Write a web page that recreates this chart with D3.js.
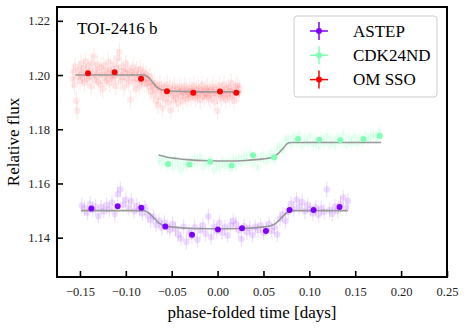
<!DOCTYPE html>
<html>
  <head>
    <meta charset="utf-8">
    <style>
      body { margin: 0; background: #fff; }
    </style>
  </head>
  <body>
    <script src="https://d3js.org/d3.v7.min.js"></script>
    <script>
      // ---- data ----
      var xTicks = [-0.15, -0.10, -0.05, 0.00, 0.05, 0.10, 0.15, 0.20, 0.25];
      var yTicks = [1.14, 1.16, 1.18, 1.20, 1.22];
      var names = ["ASTEP", "CDK24ND", "OM SSO"];

      // OM SSO raw points
      var omTime = [-0.158,-0.157,-0.156,-0.155,-0.154,-0.153,-0.152,-0.151,-0.150,-0.149,-0.148,-0.147,-0.146,-0.145,-0.144,-0.143,-0.142,-0.141,-0.140,-0.139,-0.138,-0.137,-0.136,-0.135,-0.134,-0.133,-0.132,-0.131,-0.130,-0.129,-0.128,-0.127,-0.126,-0.125,-0.124,-0.123,-0.122,-0.121,-0.120,-0.119,-0.118,-0.117,-0.116,-0.115,-0.114,-0.113,-0.112,-0.111,-0.110,-0.109,-0.108,-0.107,-0.106,-0.105,-0.104,-0.103,-0.102,-0.101,-0.100,-0.099,-0.098,-0.097,-0.096,-0.095,-0.094,-0.093,-0.092,-0.091,-0.090,-0.089,-0.088,-0.087,-0.086,-0.085,-0.084,-0.083,-0.082,-0.081,-0.080,-0.079,-0.078,-0.077,-0.076,-0.075,-0.074,-0.073,-0.072,-0.071,-0.070,-0.069,-0.068,-0.067,-0.066,-0.065,-0.064,-0.063,-0.062,-0.061,-0.060,-0.059,-0.058,-0.057,-0.056,-0.055,-0.054,-0.053,-0.052,-0.051,-0.050,-0.049,-0.048,-0.047,-0.046,-0.045,-0.044,-0.043,-0.042,-0.041,-0.040,-0.039,-0.038,-0.037,-0.036,-0.035,-0.034,-0.033,-0.032,-0.031,-0.030,-0.029,-0.028,-0.027,-0.026,-0.025,-0.024,-0.023,-0.022,-0.021,-0.020,-0.019,-0.018,-0.017,-0.016,-0.015,-0.014,-0.013,-0.012,-0.011,-0.010,-0.009,-0.008,-0.007,-0.006,-0.005,-0.004,-0.003,-0.002,-0.001,0.000,0.001,0.002,0.003,0.004,0.005,0.006,0.007,0.008,0.009,0.010,0.011,0.012,0.013,0.014,0.015,0.016,0.017,0.018,0.019,0.020,0.021,0.022,0.023,0.024];
      var omFlux = [1.1985,1.2012,1.1962,1.2030,1.1905,1.1868,1.1995,1.2018,1.1978,1.2041,1.2003,1.1990,1.2025,1.1972,1.2050,1.2008,1.1985,1.2032,1.1995,1.2015,1.1958,1.2045,1.2002,1.2068,1.1982,1.2020,1.1996,1.2038,1.1975,1.2010,1.1965,1.2028,1.2000,1.1948,1.2035,1.1990,1.2016,1.1980,1.2005,1.2048,1.1970,1.2022,1.1995,1.2012,1.1985,1.2040,1.1998,1.1960,1.2025,1.2062,1.2003,1.2085,1.1978,1.2030,1.1992,1.2015,1.1955,1.2008,1.2042,1.1987,1.2020,1.1970,1.2002,1.1910,1.2012,1.1990,1.2028,1.1975,1.2005,1.1948,1.2018,1.1985,1.2000,1.1962,1.2022,1.1978,1.1995,1.2010,1.1968,1.1990,1.2003,1.1972,1.1985,1.1958,1.1995,1.1940,1.1975,1.1962,1.1925,1.1970,1.1948,1.1905,1.1958,1.1890,1.1942,1.1965,1.1918,1.1950,1.1878,1.1935,1.1955,1.1912,1.1940,1.1965,1.1898,1.1932,1.1952,1.1870,1.1925,1.1945,1.1908,1.1960,1.1930,1.1915,1.1948,1.1895,1.1938,1.1955,1.1922,1.1942,1.1905,1.1935,1.1958,1.1925,1.1945,1.1912,1.1940,1.1930,1.1952,1.1918,1.1942,1.1928,1.1960,1.1935,1.1915,1.1945,1.1925,1.1950,1.1932,1.1908,1.1942,1.1962,1.1925,1.1940,1.1918,1.1948,1.1930,1.1955,1.1922,1.1940,1.1910,1.1945,1.1928,1.1958,1.1935,1.1902,1.1948,1.1925,1.1868,1.1940,1.1960,1.1930,1.1915,1.1945,1.1925,1.1965,1.1932,1.1910,1.1948,1.1928,1.1955,1.1918,1.1940,1.1970,1.1925,1.1945,1.1905,1.1938,1.1958,1.1928,1.1962,1.1935,1.1950];
      var omErr = 0.0034;

      // ASTEP raw points
      var astepTime = [-0.148,-0.145,-0.142,-0.139,-0.136,-0.133,-0.130,-0.127,-0.124,-0.121,-0.118,-0.115,-0.112,-0.109,-0.106,-0.103,-0.100,-0.097,-0.094,-0.091,-0.088,-0.085,-0.082,-0.079,-0.076,-0.073,-0.070,-0.067,-0.064,-0.061,-0.058,-0.055,-0.052,-0.049,-0.046,-0.043,-0.040,-0.037,-0.034,-0.031,-0.028,-0.025,-0.022,-0.019,-0.016,-0.013,-0.010,-0.007,-0.004,-0.001,0.002,0.005,0.008,0.011,0.014,0.017,0.020,0.023,0.026,0.029,0.032,0.035,0.038,0.041,0.044,0.047,0.050,0.053,0.056,0.059,0.062,0.065,0.068,0.071,0.074,0.077,0.080,0.083,0.086,0.089,0.092,0.095,0.098,0.101,0.104,0.107,0.110,0.113,0.116,0.119,0.122,0.125,0.128,0.131,0.134,0.137,0.140,0.142];
      var astepFlux = [1.1518,1.1508,1.1492,1.1525,1.1503,1.1515,1.1480,1.1512,1.1498,1.1520,1.1505,1.1530,1.1487,1.1560,1.1578,1.1522,1.1540,1.1510,1.1535,1.1498,1.1518,1.1505,1.1490,1.1512,1.1482,1.1465,1.1478,1.1448,1.1462,1.1438,1.1455,1.1440,1.1428,1.1450,1.1432,1.1412,1.1398,1.1440,1.1385,1.1420,1.1405,1.1438,1.1392,1.1428,1.1445,1.1415,1.1478,1.1402,1.1440,1.1425,1.1455,1.1418,1.1438,1.1408,1.1445,1.1462,1.1450,1.1428,1.1395,1.1442,1.1420,1.1435,1.1410,1.1440,1.1428,1.1445,1.1418,1.1432,1.1450,1.1425,1.1440,1.1412,1.1470,1.1485,1.1462,1.1495,1.1525,1.1505,1.1540,1.1515,1.1532,1.1498,1.1520,1.1505,1.1490,1.1512,1.1485,1.1508,1.1495,1.1578,1.1502,1.1488,1.1515,1.1500,1.1525,1.1548,1.1510,1.1535];
      var astepErr = 0.0028;

      // CDK24ND raw points
      var cdkTime = [-0.064,-0.061,-0.058,-0.055,-0.052,-0.049,-0.046,-0.043,-0.040,-0.037,-0.034,-0.031,-0.028,-0.025,-0.022,-0.019,-0.016,-0.013,-0.010,-0.007,-0.004,-0.001,0.002,0.005,0.008,0.011,0.014,0.017,0.020,0.023,0.026,0.029,0.032,0.035,0.038,0.041,0.044,0.047,0.050,0.053,0.056,0.059,0.062,0.065,0.068,0.071,0.074,0.077,0.080,0.083,0.086,0.089,0.092,0.095,0.098,0.101,0.104,0.107,0.110,0.113,0.116,0.119,0.122,0.125,0.128,0.131,0.134,0.137,0.140,0.143,0.146,0.149,0.152,0.155,0.158,0.161,0.164,0.167,0.170,0.173,0.176,0.178];
      var cdkFlux = [1.1688,1.1675,1.1695,1.1668,1.1682,1.1660,1.1690,1.1672,1.1650,1.1678,1.1665,1.1685,1.1670,1.1692,1.1675,1.1698,1.1662,1.1680,1.1668,1.1688,1.1650,1.1675,1.1658,1.1682,1.1665,1.1678,1.1655,1.1688,1.1670,1.1695,1.1678,1.1702,1.1685,1.1710,1.1672,1.1695,1.1660,1.1690,1.1705,1.1682,1.1698,1.1715,1.1688,1.1725,1.1740,1.1722,1.1758,1.1768,1.1745,1.1772,1.1755,1.1778,1.1740,1.1765,1.1750,1.1775,1.1745,1.1760,1.1738,1.1768,1.1752,1.1775,1.1745,1.1762,1.1740,1.1770,1.1755,1.1778,1.1742,1.1765,1.1750,1.1772,1.1748,1.1768,1.1755,1.1778,1.1760,1.1772,1.1782,1.1765,1.1790,1.1772];
      var cdkErr = 0.0024;

      // binned points
      var astepBinT = [-0.1376,-0.1089,-0.0831,-0.0570,-0.0279,0.0004,0.0266,0.0527,0.0784,0.1046,0.1329];
      var astepBinF = [1.1508,1.1516,1.1510,1.1441,1.1411,1.1430,1.1435,1.1425,1.1502,1.1502,1.1513];
      var cdkBinT = [-0.0540,-0.0308,-0.0080,0.0153,0.0386,0.0618,0.0876,0.1108,0.1337,0.1590,0.1765];
      var cdkBinF = [1.1672,1.1670,1.1680,1.1666,1.1704,1.1697,1.1764,1.1761,1.1759,1.1764,1.1776];
      var omBinT = [-0.1412,-0.1122,-0.0834,-0.0551,-0.0265,0.0026,0.0204];
      var omBinF = [1.2007,1.2010,1.1986,1.1940,1.1935,1.1939,1.1935];

      // transit model curves
      var astepModT = [-0.149,-0.080,-0.076,-0.070,-0.064,-0.058,-0.045,-0.025,0.000,0.025,0.045,0.058,0.064,0.070,0.076,0.080,0.142];
      var astepModF = [1.1500,1.1500,1.1494,1.1475,1.1455,1.1444,1.1438,1.1434,1.1433,1.1434,1.1438,1.1444,1.1455,1.1475,1.1494,1.1500,1.1500];
      var cdkModT = [-0.0643,-0.055,-0.045,-0.030,-0.010,0.010,0.030,0.045,0.055,0.060,0.066,0.072,0.077,0.080,0.178];
      var cdkModF = [1.1705,1.1697,1.1692,1.1687,1.1684,1.1683,1.1685,1.1689,1.1693,1.1697,1.1710,1.1732,1.1749,1.1751,1.1751];
      var omModT = [-0.155,-0.080,-0.076,-0.072,-0.068,-0.064,-0.059,-0.050,-0.030,0.000,0.025];
      var omModF = [1.2000,1.2000,1.1993,1.1978,1.1962,1.1950,1.1944,1.1941,1.1939,1.1938,1.1938];

      var colors = ["#8000ff", "#80ffb4", "#ff0000"];

      var FONT = "'Liberation Serif', 'Times New Roman', serif";
      var W = 466, H = 328;
      var L = 57, R = 447, T = 7, B = 277;

      var svg = d3.select("body").append("svg")
        .attr("width", W).attr("height", H)
        .style("font-family", FONT);

      var x = d3.scaleLinear().domain([-0.175, 0.25]).range([L, R]);
      var y = d3.scaleLinear().domain([1.1255, 1.2251]).range([B, T]);

      var series = [
        {t: astepTime, f: astepFlux, e: astepErr, bt: astepBinT, bf: astepBinF, mt: astepModT, mf: astepModF, c: colors[0], a: 0.13},
        {t: cdkTime, f: cdkFlux, e: cdkErr, bt: cdkBinT, bf: cdkBinF, mt: cdkModT, mf: cdkModF, c: colors[1], a: 0.15},
        {t: omTime, f: omFlux, e: omErr, bt: omBinT, bf: omBinF, mt: omModT, mf: omModF, c: colors[2], a: 0.08}
      ];

      var plot = svg.append("g");

      // faint raw points with error bars
      series.forEach(function(s){
        var g = plot.append("g");
        var pts = s.t.map(function(t, i){ return [t, s.f[i]]; });
        g.selectAll("line").data(pts).enter().append("line")
          .attr("x1", function(d){ return x(d[0]); })
          .attr("x2", function(d){ return x(d[0]); })
          .attr("y1", function(d){ return y(d[1] - s.e); })
          .attr("y2", function(d){ return y(d[1] + s.e); })
          .attr("stroke", s.c).attr("stroke-opacity", s.a).attr("stroke-width", 1.2);
        g.selectAll("circle").data(pts).enter().append("circle")
          .attr("cx", function(d){ return x(d[0]); })
          .attr("cy", function(d){ return y(d[1]); })
          .attr("r", 3.3)
          .attr("fill", s.c).attr("fill-opacity", s.a);
      });

      // model lines
      var line = d3.line()
        .x(function(d){ return x(d[0]); })
        .y(function(d){ return y(d[1]); })
        .curve(d3.curveMonotoneX);
      series.forEach(function(s){
        plot.append("path")
          .datum(s.mt.map(function(t, i){ return [t, s.mf[i]]; }))
          .attr("d", line)
          .attr("fill", "none")
          .attr("stroke", "#999")
          .attr("stroke-width", 1.6);
      });

      // binned points
      series.forEach(function(s){
        plot.append("g").selectAll("circle")
          .data(s.bt.map(function(t, i){ return [t, s.bf[i]]; }))
          .enter().append("circle")
          .attr("cx", function(d){ return x(d[0]); })
          .attr("cy", function(d){ return y(d[1]); })
          .attr("r", 3)
          .attr("fill", s.c);
      });

      // axes, ticks pointing inward
      var xAxis = svg.append("g").attr("transform", "translate(0," + B + ")")
        .call(d3.axisBottom(x).tickValues(xTicks).tickSize(-6).tickPadding(10).tickFormat(d3.format(".2f")));
      var yAxis = svg.append("g").attr("transform", "translate(" + L + ",0)")
        .call(d3.axisLeft(y).tickValues(yTicks).tickSize(-6).tickPadding(7).tickFormat(d3.format(".2f")));
      [xAxis, yAxis].forEach(function(a){
        a.attr("font-family", null);
        a.select(".domain").remove();
        a.selectAll(".tick line").attr("stroke", "#000").attr("stroke-width", 1.6);
        a.selectAll(".tick text").attr("font-size", 12.5)
          .style("font-family", FONT).attr("fill", "#222");
      });

      // frame
      svg.append("rect")
        .attr("x", L).attr("y", T).attr("width", R - L).attr("height", B - T)
        .attr("fill", "none").attr("stroke", "#000").attr("stroke-width", 2);

      // labels
      svg.append("text")
        .attr("x", 252).attr("y", 318)
        .attr("text-anchor", "middle").attr("font-size", 17)
        .style("font-family", FONT)
        .text("phase-folded time [days]");
      svg.append("text")
        .attr("transform", "translate(19," + ((T + B) / 2) + ") rotate(-90)")
        .attr("text-anchor", "middle").attr("font-size", 17)
        .style("font-family", FONT)
        .text("Relative flux");
      svg.append("text")
        .attr("x", 77).attr("y", 34)
        .attr("font-size", 17)
        .style("font-family", FONT)
        .text("TOI-2416 b");

      // legend
      var lg = svg.append("g");
      lg.append("rect")
        .attr("x", 294).attr("y", 16).attr("width", 143).attr("height", 81)
        .attr("rx", 3).attr("fill", "#fff").attr("fill-opacity", 0.8)
        .attr("stroke", "#ccc").attr("stroke-width", 1);
      names.forEach(function(n, i){
        var cy = 31 + i * 24.3;
        var it = lg.append("g").attr("transform", "translate(319," + cy + ")");
        it.append("line").attr("x1", -9).attr("x2", 9).attr("y1", 0).attr("y2", 0)
          .attr("stroke", colors[i]).attr("stroke-width", 1.5);
        it.append("line").attr("x1", 0).attr("x2", 0).attr("y1", -9).attr("y2", 9)
          .attr("stroke", colors[i]).attr("stroke-width", 1.5);
        it.append("circle").attr("r", 3).attr("fill", colors[i]);
        lg.append("text").attr("x", 353).attr("y", cy + 5.5)
          .attr("font-size", 17)
          .style("font-family", FONT)
          .text(n);
      });
    </script>
  </body>
</html>
